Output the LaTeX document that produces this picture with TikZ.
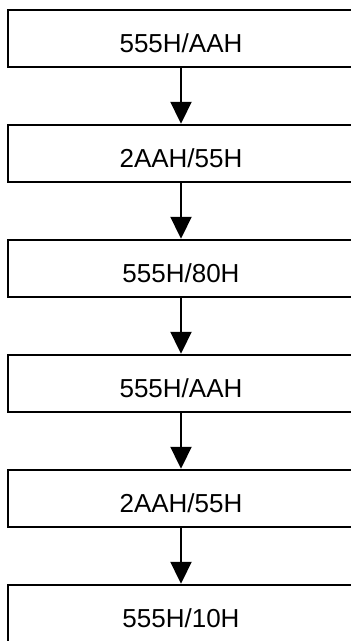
\documentclass[tikz,border=0pt]{standalone}
\usepackage{fontspec}
\setmainfont{Liberation Sans}
\usetikzlibrary{arrows.meta}
\begin{document}
\begin{tikzpicture}[x=1pt,y=1pt,
  stepbox/.style={draw=black, line width=2.4pt, fill=white, minimum width=346pt, minimum height=57pt,
    inner sep=0pt, text height=28pt, text depth=0pt,
    font=\fontsize{26}{30}\selectfont},
  flow/.style={draw=black, line width=2pt, -{Triangle[width=21pt,length=22pt]}}]
\useasboundingbox (0,0) rectangle (351,641);
\clip (0,0) rectangle (351,641);
\fill[white] (0,0) rectangle (351,641);
\node[stepbox] (b1) at (181,{641-38.5}) {555H/AAH};
\node[stepbox] (b2) at (181,{641-38.5-115}) {2AAH/55H};
\node[stepbox] (b3) at (181,{641-38.5-230}) {555H/80H};
\node[stepbox] (b4) at (181,{641-38.5-345}) {555H/AAH};
\node[stepbox] (b5) at (181,{641-38.5-460}) {2AAH/55H};
\node[stepbox] (b6) at (181,{641-38.5-575}) {555H/10H};
\draw[flow] (b1.south) -- (b2.north);
\draw[flow] (b2.south) -- (b3.north);
\draw[flow] (b3.south) -- (b4.north);
\draw[flow] (b4.south) -- (b5.north);
\draw[flow] (b5.south) -- (b6.north);
\end{tikzpicture}
\end{document}
